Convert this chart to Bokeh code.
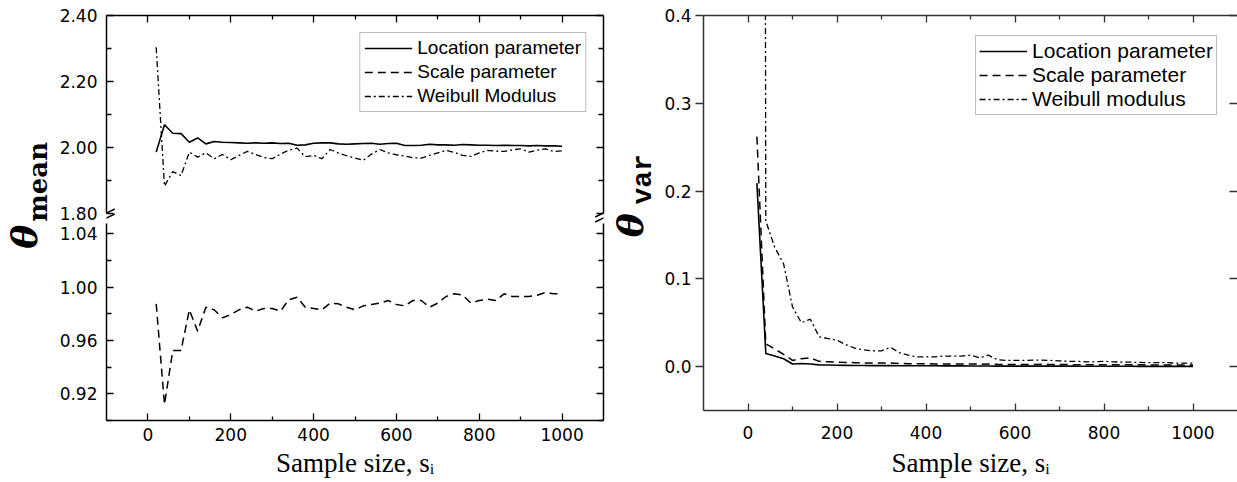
import math
from bokeh.plotting import figure
from bokeh.models import (Range1d, LinearAxis, FixedTicker, PrintfTickFormatter,
                          Legend, LegendItem)
from bokeh.layouts import row, column
from bokeh.core.properties import value
from bokeh.embed import file_html
from bokeh.resources import INLINE

# ---------------- data ----------------
sample_size = [20, 40, 60, 80, 100, 120, 140, 160, 180, 200,
               220, 240, 260, 280, 300, 320, 340, 360, 380, 400,
               420, 440, 460, 480, 500, 520, 540, 560, 580, 600,
               620, 640, 660, 680, 700, 720, 740, 760, 780, 800,
               820, 840, 860, 880, 900, 920, 940, 960, 980, 1000]

location_mean = [1.986, 2.069, 2.043, 2.042, 2.016, 2.029, 2.011, 2.018, 2.016, 2.015,
                 2.014, 2.013, 2.014, 2.013, 2.014, 2.012, 2.013, 2.007, 2.008, 2.013,
                 2.014, 2.014, 2.011, 2.010, 2.011, 2.012, 2.013, 2.010, 2.012, 2.013,
                 2.006, 2.006, 2.007, 2.010, 2.008, 2.008, 2.007, 2.009, 2.008, 2.007,
                 2.007, 2.006, 2.007, 2.006, 2.006, 2.005, 2.006, 2.005, 2.005, 2.004]

scale_mean = [0.9875, 0.912, 0.9525, 0.9525, 0.983, 0.967, 0.985, 0.983, 0.977, 0.9795,
              0.983, 0.985, 0.982, 0.984, 0.984, 0.982, 0.9905, 0.9925, 0.985, 0.984,
              0.983, 0.988, 0.9875, 0.985, 0.983, 0.986, 0.987, 0.988, 0.990, 0.987,
              0.986, 0.990, 0.990, 0.985, 0.988, 0.993, 0.995, 0.994, 0.988, 0.990,
              0.991, 0.990, 0.995, 0.993, 0.993, 0.993, 0.994, 0.996, 0.995, 0.995]

weibull_mean = [2.304, 1.883, 1.927, 1.915, 1.986, 1.971, 1.984, 1.966, 1.979, 1.963,
                1.976, 1.988, 1.979, 1.970, 1.966, 1.980, 1.992, 1.998, 1.972, 1.976,
                1.966, 1.994, 1.983, 1.975, 1.968, 1.961, 1.980, 1.994, 1.984, 1.978,
                1.974, 1.969, 1.968, 1.976, 1.984, 1.991, 1.985, 1.976, 1.973, 1.984,
                1.991, 1.989, 1.988, 1.993, 1.996, 1.986, 1.992, 1.996, 1.988, 1.990]

location_var = [0.209, 0.015, 0.012, 0.009, 0.003, 0.0035, 0.003, 0.002, 0.0018, 0.0015,
                0.0014, 0.0013, 0.0012, 0.0011, 0.0011, 0.0012, 0.0010, 0.0010, 0.0009, 0.0009,
                0.0009, 0.0008, 0.0008, 0.0008, 0.0007, 0.0007, 0.0007, 0.0006, 0.0006, 0.0006,
                0.0006, 0.0005, 0.0005, 0.0005, 0.0005, 0.0005, 0.0004, 0.0004, 0.0004, 0.0004,
                0.0004, 0.0004, 0.0004, 0.0003, 0.0003, 0.0003, 0.0003, 0.0003, 0.0003, 0.0003]

scale_var = [0.262, 0.026, 0.020, 0.014, 0.007, 0.009, 0.010, 0.006, 0.0055, 0.005,
             0.0048, 0.0045, 0.0042, 0.0040, 0.0040, 0.0042, 0.0036, 0.0034, 0.0032, 0.0032,
             0.0031, 0.0030, 0.0030, 0.0029, 0.0030, 0.0028, 0.0029, 0.0026, 0.0025, 0.0025,
             0.0025, 0.0025, 0.0026, 0.0024, 0.0023, 0.0023, 0.0022, 0.0022, 0.0021, 0.0022,
             0.0021, 0.0020, 0.0020, 0.0020, 0.0019, 0.0019, 0.0019, 0.0018, 0.0018, 0.0018]

weibull_var = [6.0, 0.166, 0.136, 0.117, 0.068, 0.050, 0.054, 0.034, 0.032, 0.030,
               0.025, 0.021, 0.019, 0.018, 0.018, 0.022, 0.016, 0.013, 0.011, 0.011,
               0.011, 0.012, 0.012, 0.012, 0.013, 0.010, 0.013, 0.008, 0.007, 0.007,
               0.007, 0.0075, 0.0075, 0.007, 0.0065, 0.006, 0.006, 0.0055, 0.0055, 0.006,
               0.0055, 0.005, 0.005, 0.0048, 0.0045, 0.0045, 0.0045, 0.004, 0.004, 0.004]

x_ticks = [0, 200, 400, 600, 800, 1000]
x_minor = [100, 300, 500, 700, 900]
mean_top_ticks = [1.80, 2.00, 2.20, 2.40]
mean_top_minor = [1.90, 2.10, 2.30]
mean_bot_ticks = [0.92, 0.96, 1.00, 1.04]
mean_bot_minor = [0.90, 0.94, 0.98, 1.02]
var_ticks = [0.0, 0.1, 0.2, 0.3, 0.4]

legend_left = ["Location parameter", "Scale parameter", "Weibull Modulus"]
legend_right = ["Location parameter", "Scale parameter", "Weibull modulus"]

# ---------------- styles / layout ----------------
TICK_FONT = "DejaVu Sans"
SERIF = "Liberation Serif"
DASH = "8 5"
DASHDOT = "6 3 2 3"
PAGE_H = 482

# top panel: 2.40 at 15 px, 1.80 at 213 px; its frame runs down to the split
SPLIT = 223
TOP_PX_PER_UNIT = (213 - 15) / 0.60
TOP_START = 1.80 - (SPLIT - 213) / TOP_PX_PER_UNIT
# bottom panel: 0.90 at 420 px, 1.05 would sit at 220 px
BOT_PX_PER_UNIT = (420 - 220) / 0.15
BOT_END = 0.90 + (420 - SPLIT) / BOT_PX_PER_UNIT


def style_axis(ax, tin=0, tout=0, min_in=0, min_out=0, labels=True,
               standoff=7, color="black"):
    ax.axis_line_width = 1.5
    ax.axis_line_color = color
    ax.major_tick_line_color = color
    ax.minor_tick_line_color = color
    ax.major_tick_line_width = 1.3
    ax.minor_tick_line_width = 1.3
    ax.major_tick_in = tin
    ax.major_tick_out = tout
    ax.minor_tick_in = min_in
    ax.minor_tick_out = min_out
    if labels:
        ax.major_label_text_font = TICK_FONT
        ax.major_label_text_font_size = "17px"
        ax.major_label_text_color = "black"
        ax.major_label_standoff = standoff
    else:
        ax.major_label_text_font_size = "0px"
        ax.major_label_standoff = 0
        ax.major_label_text_color = None


def style_xlabel(ax, standoff):
    ax.axis_label = "Sample size, sᵢ"
    ax.axis_label_text_font = SERIF
    ax.axis_label_text_font_size = "27px"
    ax.axis_label_text_font_style = "normal"
    ax.axis_label_text_color = "black"
    ax.axis_label_standoff = standoff


def add_series(p, ys_loc, ys_scale, ys_weib):
    r1 = p.line(sample_size, ys_loc, line_color="black", line_width=1.6)
    r2 = p.line(sample_size, ys_scale, line_color="black", line_width=1.5,
                line_dash=DASH)
    r3 = p.line(sample_size, ys_weib, line_color="black", line_width=1.3,
                line_dash=DASHDOT)
    return r1, r2, r3


def make_legend(p, rs, labels, font_size, margin, padding, spacing):
    items = [LegendItem(label=l, renderers=[r]) for l, r in zip(labels, rs)]
    lg = Legend(items=items, location="top_right", margin=margin,
                padding=padding, spacing=spacing, glyph_width=48,
                glyph_height=18, label_height=18, label_standoff=5,
                label_text_font="Liberation Sans",
                label_text_font_size=font_size, label_text_color="black",
                border_line_color="#777777", border_line_width=1,
                background_fill_color="white", background_fill_alpha=1.0)
    p.add_layout(lg)


xr = Range1d(-100, 1100)

# ---------------- left chart: top panel ----------------
p1 = figure(width=551, height=SPLIT, x_range=xr, y_range=Range1d(TOP_START, 2.40),
            output_backend="svg", toolbar_location=None,
            x_axis_location="above", y_axis_location="left",
            min_border_left=51, min_border_right=3, min_border_top=15,
            min_border_bottom=0)
p1.outline_line_color = None
p1.grid.visible = False
p1.xaxis.ticker = FixedTicker(ticks=x_ticks, minor_ticks=x_minor)
style_axis(p1.xaxis[0], tin=7, min_in=4, labels=False)
p1.yaxis.ticker = FixedTicker(ticks=mean_top_ticks, minor_ticks=mean_top_minor)
p1.yaxis.formatter = PrintfTickFormatter(format="%.2f")
p1.yaxis.bounds = (1.80, 2.40)
style_axis(p1.yaxis[0], tin=7, min_in=5, standoff=9)
ax = LinearAxis(ticker=FixedTicker(ticks=mean_top_ticks, minor_ticks=mean_top_minor),
                bounds=(1.80, 2.40))
style_axis(ax, tin=7, min_in=5, labels=False)
p1.add_layout(ax, "right")
rs1 = add_series(p1, location_mean, scale_mean, weibull_mean)
make_legend(p1, rs1, legend_left, "19px", 17, 4, 2)

# axis-break marks (two short parallel strokes at each vertical axis)
brk_dx = 20
brk_dy = 4 / TOP_PX_PER_UNIT
brk_y = [1.80 - (212.5 - 213) / TOP_PX_PER_UNIT, 1.80 - (217.5 - 213) / TOP_PX_PER_UNIT]
bx0, by0, bx1, by1 = [], [], [], []
for xa in (-100, 1100):
    for yc in brk_y:
        bx0.append(xa - brk_dx); by0.append(yc - brk_dy)
        bx1.append(xa + brk_dx); by1.append(yc + brk_dy)
p1.segment(x0=bx0, y0=by0, x1=bx1, y1=by1, line_color="black", line_width=1.4)

# ---------------- left chart: bottom panel ----------------
p2 = figure(width=551, height=PAGE_H - SPLIT, x_range=xr,
            y_range=Range1d(0.90, BOT_END),
            output_backend="svg", toolbar_location=None,
            x_axis_location="below", y_axis_location="left",
            min_border_left=51, min_border_right=3, min_border_top=0,
            min_border_bottom=62)
p2.outline_line_color = None
p2.grid.visible = False
p2.xaxis.ticker = FixedTicker(ticks=x_ticks, minor_ticks=x_minor)
style_axis(p2.xaxis[0], tin=7, min_in=4, standoff=7)
style_xlabel(p2.xaxis[0], 4)
p2.yaxis.ticker = FixedTicker(ticks=mean_bot_ticks, minor_ticks=mean_bot_minor)
p2.yaxis.formatter = PrintfTickFormatter(format="%.2f")
style_axis(p2.yaxis[0], tin=7, min_in=5, standoff=9)
ax = LinearAxis(ticker=FixedTicker(ticks=mean_bot_ticks, minor_ticks=mean_bot_minor))
style_axis(ax, tin=7, min_in=5, labels=False)
p2.add_layout(ax, "right")
add_series(p2, location_mean, scale_mean, weibull_mean)


# ---------------- y-axis titles (styled theta labels) ----------------
def label_fig(width, parts):
    f = figure(width=width, height=PAGE_H, x_range=Range1d(0, width),
               y_range=Range1d(PAGE_H, 0), output_backend="svg",
               toolbar_location=None, x_axis_location=None,
               y_axis_location=None, min_border=0)
    f.outline_line_color = None
    f.grid.visible = False
    for (tx, ty, txt, font, style, size) in parts:
        f.text(x=[tx], y=[ty], text=[txt], angle=math.pi / 2,
               text_font=value(font), text_font_style=style,
               text_font_size=size, text_align="center",
               text_baseline="middle", text_color="black")
    return f


lab1 = label_fig(55, [(23, 270, "θ", "DejaVu Serif", "bold italic", "36px"),
                      (37, 203, "mean", "DejaVu Serif", "bold", "26px")])
lab2 = label_fig(54, [(23, 256, "θ", "DejaVu Serif", "bold italic", "36px"),
                      (37, 200, "var", "Liberation Mono", "bold", "28px")])

# ---------------- right chart ----------------
p3 = figure(width=577, height=PAGE_H, x_range=Range1d(-100, 1100),
            y_range=Range1d(-0.05, 0.40),
            output_backend="svg", toolbar_location=None,
            x_axis_location="below", y_axis_location="left",
            min_border_left=43, min_border_right=0, min_border_top=15,
            min_border_bottom=72)
p3.outline_line_color = None
p3.grid.visible = False
GRAY = "#333333"
p3.xaxis.ticker = FixedTicker(ticks=x_ticks, minor_ticks=x_minor)
style_axis(p3.xaxis[0], tin=7, min_in=4, standoff=15, color=GRAY)
style_xlabel(p3.xaxis[0], 6)
ax = LinearAxis(ticker=FixedTicker(ticks=x_ticks, minor_ticks=x_minor))
style_axis(ax, tin=7, min_in=4, labels=False, color=GRAY)
p3.add_layout(ax, "above")
p3.yaxis.ticker = FixedTicker(ticks=var_ticks, minor_ticks=[])
p3.yaxis.formatter = PrintfTickFormatter(format="%.1f")
style_axis(p3.yaxis[0], tout=8, standoff=4, color=GRAY)
ax = LinearAxis(ticker=FixedTicker(ticks=var_ticks, minor_ticks=[]))
style_axis(ax, tin=8, labels=False, color=GRAY)
ax.axis_line_color = None
p3.add_layout(ax, "right")
rs3 = add_series(p3, location_var, scale_var, weibull_var)
make_legend(p3, rs3, legend_right, "21px", 20, 3, 0)

layout = row(lab1, column(p1, p2, spacing=0), lab2, p3, spacing=0)

open("out.html", "w").write(file_html(layout, INLINE))
